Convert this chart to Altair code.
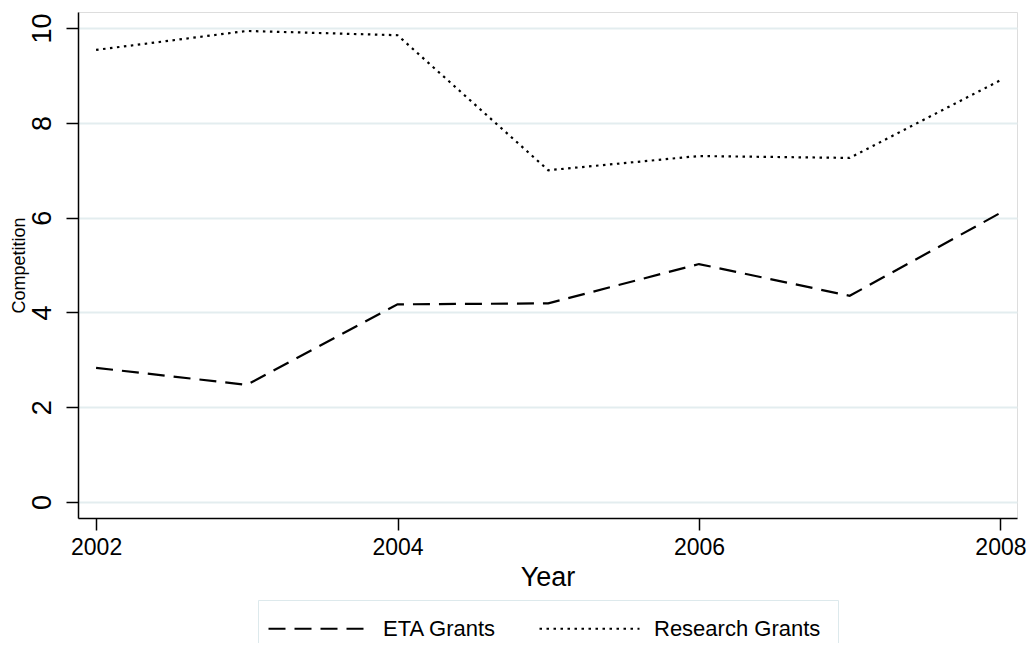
import altair as alt
import pandas as pd

years = [2002, 2003, 2004, 2005, 2006, 2007, 2008]
eta = [2.83, 2.47, 4.17, 4.19, 5.02, 4.35, 6.1]
research = [9.54, 9.94, 9.85, 7.0, 7.3, 7.26, 8.9]
series = ["ETA Grants", "Research Grants"]

rows = []
for y, v in zip(years, eta):
    rows.append({"Year": y, "Competition": v, "Series": series[0]})
for y, v in zip(years, research):
    rows.append({"Year": y, "Competition": v, "Series": series[1]})
df = pd.DataFrame(rows)

FONT = "Liberation Sans"

chart = alt.Chart(df).mark_line(color="black", strokeWidth=2.2).encode(
    x=alt.X("Year:Q", scale=alt.Scale(domain=[2001.88, 2008.11], nice=False, zero=False),
            axis=alt.Axis(values=[2002, 2004, 2006, 2008], format="d", grid=False,
                          title="Year", titleFontSize=27, titleFontWeight="normal",
                          labelFontSize=23, tickSize=12, labelPadding=6, titlePadding=5,
                          domainColor="black", domainWidth=1.5, tickColor="black", tickWidth=1.5,
                          labelColor="black", titleColor="black", labelFont=FONT, titleFont=FONT)),
    y=alt.Y("Competition:Q", scale=alt.Scale(domain=[-0.34, 10.34], nice=False, zero=False),
            axis=alt.Axis(values=[0, 2, 4, 6, 8, 10], grid=True, gridColor="#e3edef", gridWidth=2,
                          title="Competition", titleFontSize=18, titleFontWeight="normal",
                          labelFontSize=27, labelAngle=270, labelAlign="center", labelBaseline="bottom",
                          tickSize=12, labelPadding=10, titlePadding=0,
                          domainColor="black", domainWidth=1.5, tickColor="black", tickWidth=1.5,
                          labelColor="black", titleColor="black", labelFont=FONT, titleFont=FONT)),
    strokeDash=alt.StrokeDash("Series:N",
                              scale=alt.Scale(domain=series, range=[[17, 9], [2.5, 4.5]]),
                              legend=alt.Legend(title=None, orient="none", legendX=180, legendY=588,
                                                direction="horizontal", columns=2,
                                                symbolType="M-1.8,0H8.2", symbolSize=400,
                                                symbolStrokeWidth=2.2, symbolStrokeColor="black",
                                                labelFontSize=22, labelFont=FONT, labelColor="black",
                                                labelLimit=400,
                                                labelOffset=85, columnPadding=38,
                                                padding=17, strokeColor="#dde9ec",
                                                fillColor="white")),
).properties(
    width=939, height=506,
    padding={"left": 70, "top": 4, "right": 9, "bottom": 125},
    autosize=alt.AutoSizeParams(type="none"),
).configure_view(stroke=None).configure(background="white")

chart.save("out.html", embed_options={"renderer": "svg", "actions": False})
